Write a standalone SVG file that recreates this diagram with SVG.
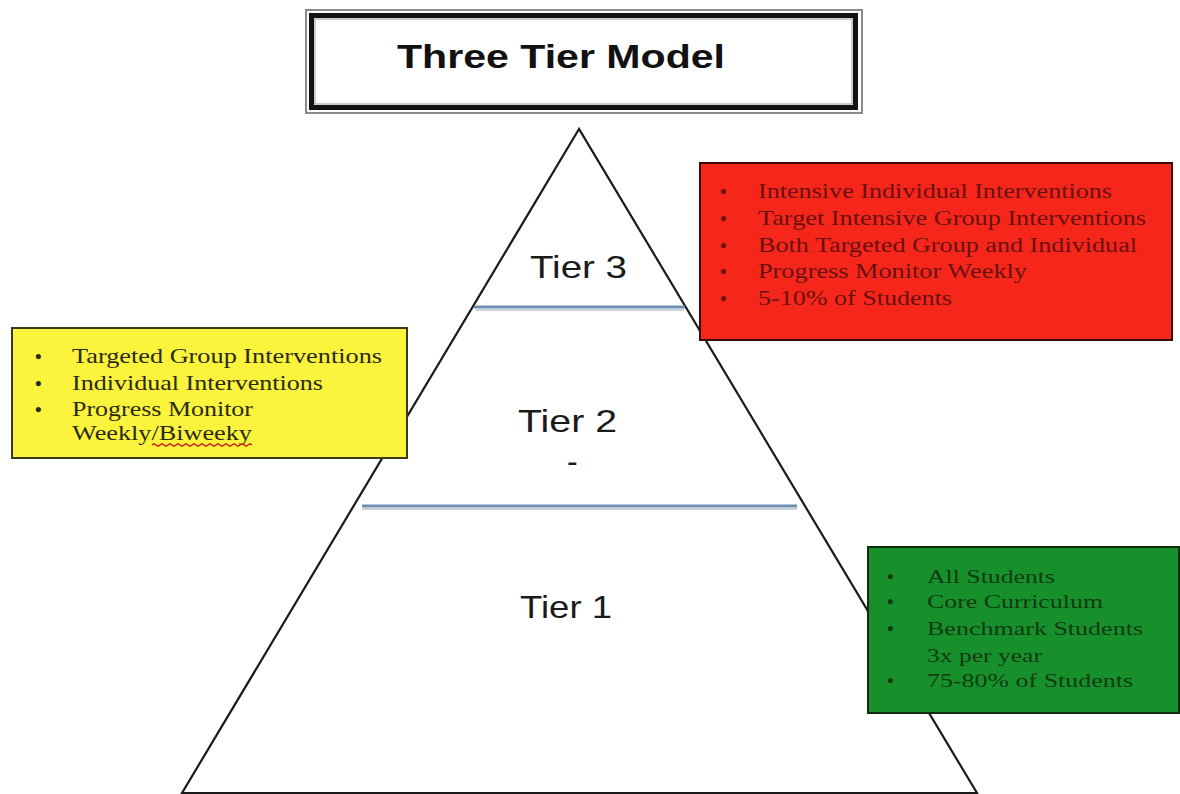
<svg xmlns="http://www.w3.org/2000/svg" width="1180" height="794" viewBox="0 0 1180 794">
<style>
.title{font-family:"Liberation Sans",Arial,sans-serif;font-weight:bold;font-size:33px;fill:#111}
.tier{font-family:"Liberation Sans",Arial,sans-serif;font-size:32px;fill:#1a1a1a}
.red{font-family:"Liberation Serif","Times New Roman",serif;font-size:20px;fill:#6a1010}
.yel{font-family:"Liberation Serif","Times New Roman",serif;font-size:21px;fill:#2a2a14}
.grn{font-family:"Liberation Serif","Times New Roman",serif;font-size:19px;fill:#103a12}
.b{font-size:19px;font-weight:bold}
.sep{stroke:#6f8fb2;stroke-width:3;fill:none}
.sh{stroke:#c9d3dc;stroke-width:2;fill:none}
</style>
<rect width="1180" height="794" fill="#ffffff"/>
<g id="title">
<rect x="306" y="10" width="556" height="103" fill="#fff" stroke="#8a8a8a" stroke-width="2"/>
<rect x="311.5" y="15.5" width="544" height="92" fill="#fff" stroke="#111" stroke-width="5"/>
<rect x="315" y="19" width="537" height="85" fill="none" stroke="#999" stroke-width="1"/>
<text class="title" x="397" y="68" textLength="328" lengthAdjust="spacingAndGlyphs">Three Tier Model</text>
</g>
<g id="pyramid">
<polygon points="579,129 182,793 977,793" fill="#fff" stroke="#1a1a1a" stroke-width="2.2" stroke-linejoin="miter"/>
<line class="sh" x1="476" y1="310" x2="684" y2="310"/>
<line class="sep" x1="474" y1="307" x2="685" y2="307"/>
<line class="sh" x1="362" y1="509" x2="797" y2="509"/>
<line class="sep" x1="362" y1="506" x2="797" y2="506"/>
<text class="tier" x="530" y="278" textLength="97" lengthAdjust="spacingAndGlyphs">Tier 3</text>
<text class="tier" x="518" y="432" textLength="99" lengthAdjust="spacingAndGlyphs">Tier 2</text>
<text class="tier" x="567" y="472" font-size="8">-</text>
<text class="tier" x="520" y="618" textLength="92" lengthAdjust="spacingAndGlyphs">Tier 1</text>
</g>
<g id="tier3-box">
<rect x="700" y="163" width="472" height="177" fill="#f7261a" stroke="#3a0a08" stroke-width="2"/>
<text class="red b" x="720" y="198">•</text>
<text class="red b" x="720" y="225">•</text>
<text class="red b" x="720" y="252">•</text>
<text class="red b" x="720" y="278">•</text>
<text class="red b" x="720" y="305">•</text>
<text class="red" x="758" y="198" textLength="354" lengthAdjust="spacingAndGlyphs">Intensive Individual Interventions</text>
<text class="red" x="758" y="225" textLength="388" lengthAdjust="spacingAndGlyphs">Target Intensive Group Interventions</text>
<text class="red" x="758" y="252" textLength="379" lengthAdjust="spacingAndGlyphs">Both Targeted Group and Individual</text>
<text class="red" x="758" y="278" textLength="269" lengthAdjust="spacingAndGlyphs">Progress Monitor Weekly</text>
<text class="red" x="758" y="305" textLength="194" lengthAdjust="spacingAndGlyphs">5-10% of Students</text>
</g>
<g id="tier2-box">
<rect x="12" y="328" width="395" height="130" fill="#fcf43c" stroke="#3a3a14" stroke-width="2"/>
<text class="yel b" x="35" y="363">•</text>
<text class="yel b" x="35" y="390">•</text>
<text class="yel b" x="35" y="416">•</text>
<text class="yel" x="72" y="363" textLength="310" lengthAdjust="spacingAndGlyphs">Targeted Group Interventions</text>
<text class="yel" x="72" y="390" textLength="251" lengthAdjust="spacingAndGlyphs">Individual Interventions</text>
<text class="yel" x="72" y="416" textLength="181" lengthAdjust="spacingAndGlyphs">Progress Monitor</text>
<text class="yel" x="72" y="440" textLength="180" lengthAdjust="spacingAndGlyphs">Weekly/Biweeky</text>
<path d="M152,445 q2,-2 4,0 t4,0 t4,0 t4,0 t4,0 t4,0 t4,0 t4,0 t4,0 t4,0 t4,0 t4,0 t4,0 t4,0 t4,0 t4,0 t4,0 t4,0 t4,0 t4,0 t4,0 t4,0 t4,0 t4,0 t4,0" fill="none" stroke="#d02020" stroke-width="1.2"/>
</g>
<g id="tier1-box">
<rect x="868" y="547" width="311" height="166" fill="#17902b" stroke="#0c2e0e" stroke-width="2"/>
<text class="grn b" x="887" y="583">•</text>
<text class="grn b" x="887" y="608">•</text>
<text class="grn b" x="887" y="635">•</text>
<text class="grn b" x="887" y="687">•</text>
<text class="grn" x="927" y="583" textLength="128" lengthAdjust="spacingAndGlyphs">All Students</text>
<text class="grn" x="927" y="608" textLength="176" lengthAdjust="spacingAndGlyphs">Core Curriculum</text>
<text class="grn" x="927" y="635" textLength="216" lengthAdjust="spacingAndGlyphs">Benchmark Students</text>
<text class="grn" x="927" y="662" textLength="115" lengthAdjust="spacingAndGlyphs">3x per year</text>
<text class="grn" x="927" y="687" textLength="206" lengthAdjust="spacingAndGlyphs">75-80% of Students</text>
</g>
<g id="connectors"></g>
</svg>
